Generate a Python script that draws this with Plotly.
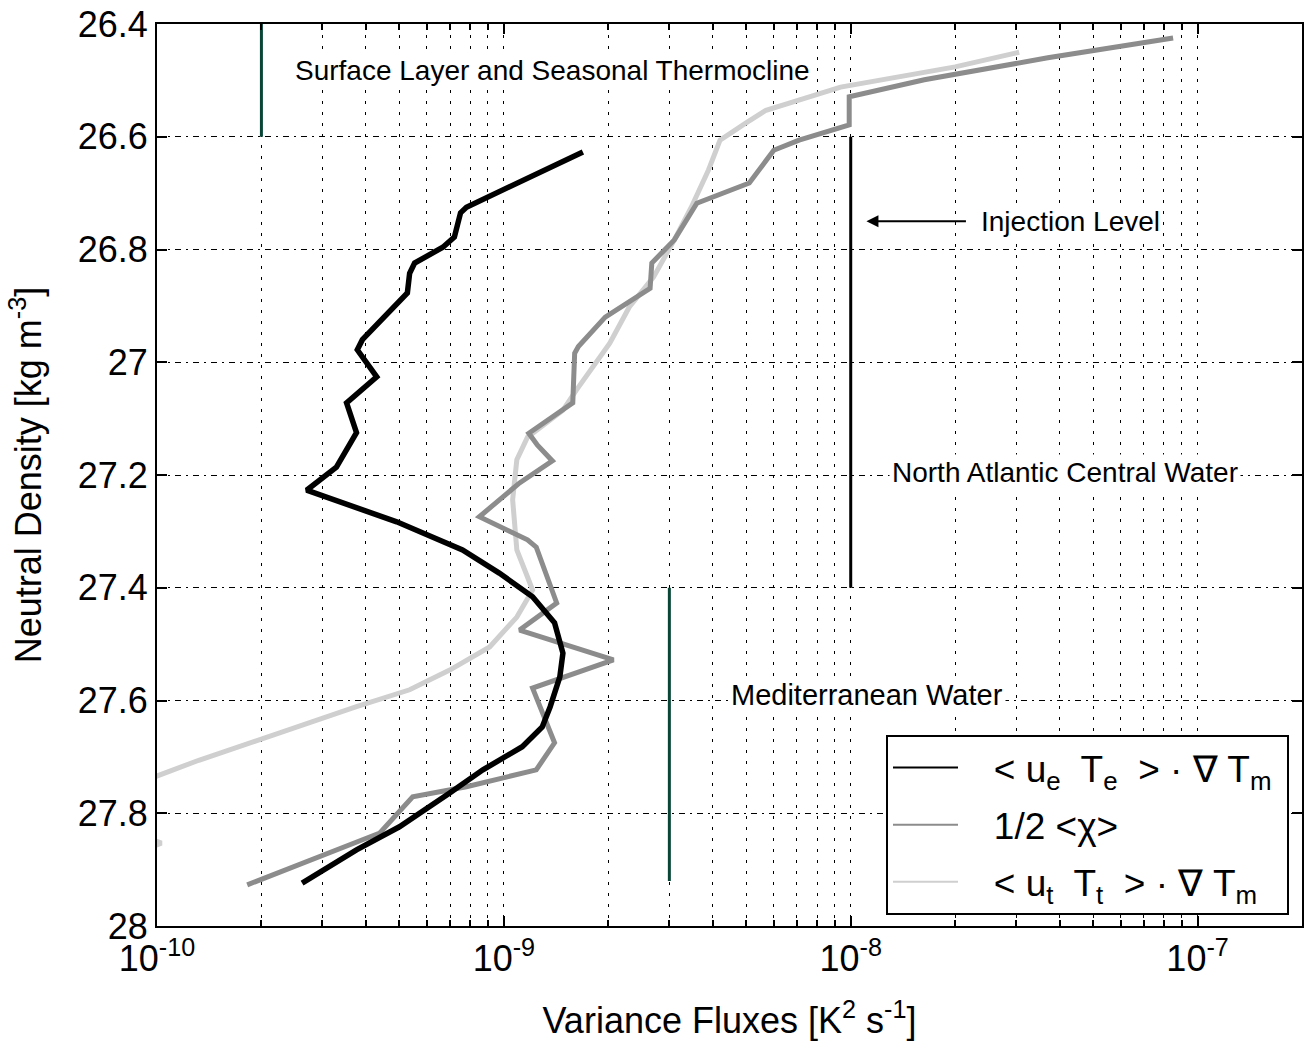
import numpy as np
import plotly.graph_objects as go

# ---------------- data ----------------
# series 1: <u_e T_e> . grad T_m (black)
adv_y = [26.627, 26.725, 26.735, 26.778, 26.796, 26.824, 26.842, 26.877, 26.96, 26.978,
         27.026, 27.072, 27.125, 27.186, 27.227, 27.283, 27.333, 27.374, 27.416, 27.462,
         27.516, 27.558, 27.611, 27.647, 27.682, 27.723, 27.764, 27.824, 27.865, 27.924]
adv_x = [1.69e-9, 7.8e-10, 7.5e-10, 7.2e-10, 6.67e-10, 5.53e-10, 5.35e-10, 5.27e-10, 3.91e-10, 3.78e-10,
         4.3e-10, 3.52e-10, 3.76e-10, 3.29e-10, 2.7e-10, 4.91e-10, 7.6e-10, 9.7e-10, 1.21e-9, 1.4e-9,
         1.48e-9, 1.45e-9, 1.36e-9, 1.29e-9, 1.13e-9, 8.7e-10, 6.98e-10, 5.0e-10, 3.76e-10, 2.62e-10]

# series 2: 1/2 <chi> (mid grey)
chi_y = [26.425, 26.46, 26.499, 26.529, 26.579, 26.606, 26.624, 26.682, 26.718, 26.783,
         26.824, 26.869, 26.92, 26.972, 26.984, 27.072, 27.126, 27.147, 27.175, 27.214,
         27.274, 27.315, 27.328, 27.427, 27.475, 27.528, 27.578, 27.622, 27.675, 27.723,
         27.753, 27.771, 27.835, 27.927]
chi_x = [8.5e-8, 3.7e-8, 1.63e-8, 9.9e-9, 9.9e-9, 7.1e-9, 6.0e-9, 5.1e-9, 3.6e-9, 3.1e-9,
         2.67e-9, 2.64e-9, 1.96e-9, 1.64e-9, 1.6e-9, 1.58e-9, 1.18e-9, 1.25e-9, 1.38e-9, 1.11e-9,
         8.5e-10, 1.17e-9, 1.24e-9, 1.42e-9, 1.11e-9, 2.07e-9, 1.21e-9, 1.29e-9, 1.4e-9, 1.24e-9,
         7.8e-10, 5.46e-10, 4.39e-10, 1.82e-10]

# series 3: <u_t T_t> . grad T_m (light grey)
tot_y = [26.45, 26.476, 26.512, 26.535, 26.553, 26.576, 26.606, 26.659, 26.725, 26.783,
         26.849, 26.902, 26.966, 27.049, 27.085, 27.133, 27.173, 27.244, 27.333, 27.381,
         27.404, 27.452, 27.505, 27.546, 27.581, 27.611, 27.635, 27.675, 27.706, 27.738,
         27.78, 27.84, 27.853, 27.866, 27.9]
tot_x = [3.06e-8, 2.0e-8, 9.35e-9, 7.1e-9, 5.7e-9, 4.98e-9, 4.2e-9, 3.89e-9, 3.47e-9, 3.1e-9,
         2.7e-9, 2.3e-9, 2.02e-9, 1.62e-9, 1.48e-9, 1.17e-9, 1.09e-9, 1.06e-9, 1.09e-9, 1.17e-9,
         1.21e-9, 1.09e-9, 9.1e-10, 6.98e-10, 5.35e-10, 3.76e-10, 2.88e-10, 1.85e-10, 1.32e-10, 9.6e-11,
         4e-11, 9e-11, 1.03e-10, 9e-11, 4e-11]

# water-mass range markers: (flux position, density top, density bottom)
surface_bar = [2e-10, 26.4, 26.6]
nacw_bar = [1e-8, 26.6, 27.4]
med_bar = [3e-9, 27.4, 27.92]

legend_names = ["   &lt; u<sub>e</sub>  T<sub>e</sub>  &gt; · ∇ T<sub>m</sub> ",
                "   1/2 &lt;χ&gt;",
                "   &lt; u<sub>t</sub>  T<sub>t</sub>  &gt; · ∇ T<sub>m</sub>"]

y_ticks = [26.4, 26.6, 26.8, 27.0, 27.2, 27.4, 27.6, 27.8, 28.0]
y_ticktext = ["26.4", "26.6", "26.8", "27", "27.2", "27.4", "27.6", "27.8", "28"]
x_major = [1e-10, 1e-9, 1e-8, 1e-7]
x_ticktext = ["10<sup>-10</sup>", "10<sup>-9</sup>", "10<sup>-8</sup>", "10<sup>-7</sup>"]
x_minor = [m * d for d in [1e-10, 1e-9, 1e-8, 1e-7] for m in range(2, 10) if m * d <= 2e-7]

FONT = "Liberation Sans, Arial, sans-serif"
GREEN = "#0a4636"
C1, C2, C3 = "#000000", "#8c8c8c", "#cfcfcf"

fig = go.Figure()

# range bars
for bar, col in [(surface_bar, GREEN), (nacw_bar, "#000000"), (med_bar, GREEN)]:
    fig.add_trace(go.Scatter(x=[bar[0], bar[0]], y=[bar[1], bar[2]], mode="lines",
                             line=dict(color=col, width=3), showlegend=False, hoverinfo="skip"))

# data curves (thick), legend via thin dummy traces
for xs, ys, col, w in [(tot_x, tot_y, C3, 5), (chi_x, chi_y, C2, 5), (adv_x, adv_y, C1, 5.5)]:
    fig.add_trace(go.Scatter(x=xs, y=ys, mode="lines", line=dict(color=col, width=w),
                             showlegend=False))

for i, (name, col) in enumerate(zip(legend_names, [C1, C2, C3])):
    fig.add_trace(go.Scatter(x=[None], y=[None], mode="lines", name=name,
                             legendgroup=f"g{i}", line=dict(color=col, width=2)))

lx = lambda v: float(np.log10(v))
ann_font = dict(size=28, color="black")

fig.add_annotation(x=lx(10 ** -9.61), y=26.483, text="Surface Layer and Seasonal Thermocline",
                   xanchor="left", yanchor="middle", showarrow=False, font=ann_font,
                   bgcolor="white", borderpad=2)
fig.add_annotation(x=lx(1.11e-8), y=26.75, text="", showarrow=True, ax=101, ay=0,
                   arrowhead=2, arrowsize=1.2, arrowwidth=2, arrowcolor="black")
fig.add_annotation(x=lx(10 ** -7.633), y=26.75, text="Injection Level",
                   xanchor="left", yanchor="middle", showarrow=False, font=ann_font,
                   bgcolor="white", borderpad=2)
fig.add_annotation(x=lx(10 ** -7.89), y=27.195, text="North Atlantic Central Water",
                   xanchor="left", yanchor="middle", showarrow=False, font=ann_font,
                   bgcolor="white", borderpad=2)
fig.add_annotation(x=lx(10 ** -8.353), y=27.59, text="Mediterranean Water",
                   xanchor="left", yanchor="middle", showarrow=False, font=dict(size=29, color="black"),
                   bgcolor="white", borderpad=2)

fig.update_layout(
    width=1307, height=1055,
    margin=dict(l=157, r=5, t=24, b=129),
    paper_bgcolor="white", plot_bgcolor="white",
    font=dict(family=FONT, size=36, color="black"),
    showlegend=True,
    legend=dict(x=(886 - 157) / 1145, y=(926 - 735) / 902, xanchor="left", yanchor="top",
                bgcolor="white", bordercolor="black", borderwidth=2,
                font=dict(size=37), itemwidth=65, tracegroupgap=6),
    xaxis=dict(type="log", range=[-10, np.log10(2e-7)], automargin=False,
               ticklabeloverflow="allow",
               tickmode="array", tickvals=x_major, ticktext=x_ticktext,
               ticks="inside", ticklen=10, tickwidth=1.5, tickcolor="black",
               showline=True, linecolor="black", linewidth=2, mirror="ticks",
               showgrid=True, gridcolor="black", gridwidth=1.3, griddash="3px,8px",
               minor=dict(tickmode="array", tickvals=x_minor, ticks="inside", ticklen=6,
                          tickcolor="black", showgrid=True, gridcolor="black",
                          gridwidth=1.3, griddash="3px,8px"),
               zeroline=False,
               title=dict(text="Variance Fluxes [K<sup>2</sup> s<sup>-1</sup>]",
                          font=dict(size=36), standoff=30),
               tickfont=dict(size=36)),
    yaxis=dict(range=[28, 26.4], automargin=False, ticklabeloverflow="allow",
               tickmode="array", tickvals=y_ticks, ticktext=y_ticktext,
               ticks="inside", ticklen=10, tickwidth=1.5, tickcolor="black",
               showline=True, linecolor="black", linewidth=2, mirror="ticks",
               showgrid=True, gridcolor="black", gridwidth=1.3, griddash="6px,5px,2px,5px",
               zeroline=False,
               title=dict(text="Neutral Density [kg m<sup>-3</sup>]", font=dict(size=36), standoff=25),
               tickfont=dict(size=36)),
)

fig.write_html("out.html", config={"displayModeBar": False},
               post_script="document.body.style.margin='0';")
